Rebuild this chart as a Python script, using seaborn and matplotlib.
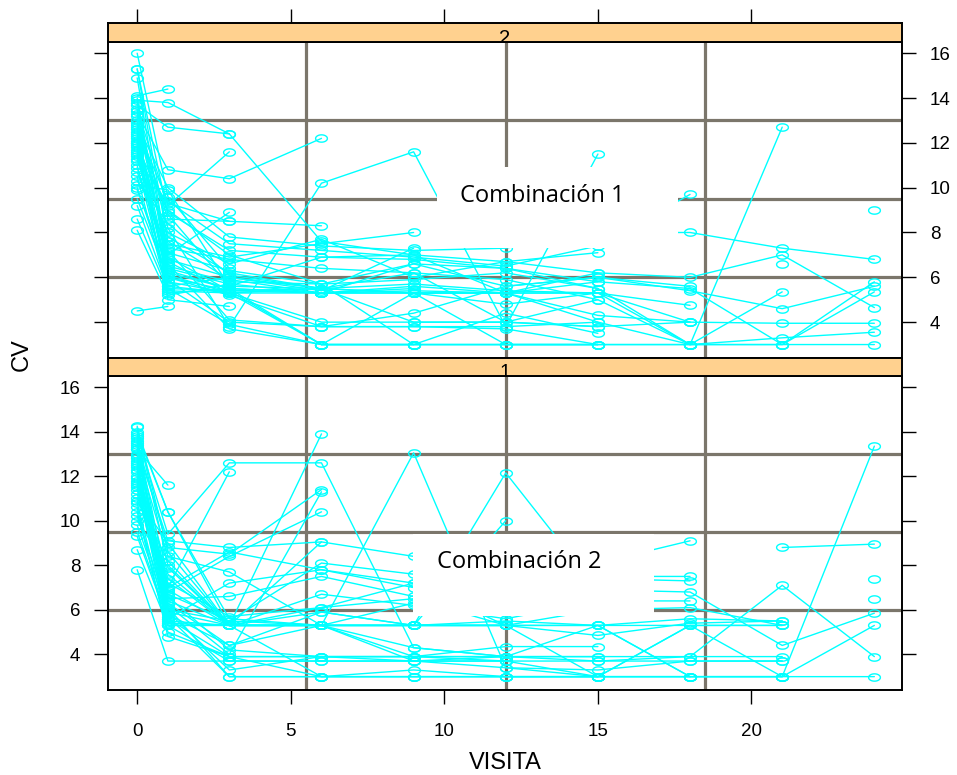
import numpy as np
import pandas as pd
import matplotlib
matplotlib.use("Agg")
import matplotlib.pyplot as plt
from matplotlib.patches import Rectangle
import seaborn as sns

n = np.nan
visits = [0, 1, 3, 6, 9, 12, 15, 18, 21, 24]

# Panel "2" (top) -- Combinación 1 ; one row per subject, values at each visit
comb1 = [
    [16.0, 9.6, 6.4, n, n, n, n, n, n, n],
    [15.3, 8.8, 5.6, 5.5, 5.7, 5.4, 5.3, 4.0, 3.95, 3.95],
    [15.3, 7.6, 5.9, 5.3, 6.6, 5.6, 6.0, 5.4, 4.6, 5.6],
    [14.9, 6.9, 5.4, 5.3, 5.3, 5.3, 5.3, 3.0, 3.3, 3.55],
    [14.1, 14.4, n, n, n, n, n, n, n, n],
    [13.9, 13.8, 12.4, 7.6, 7.0, 6.7, 6.2, 6.0, 7.0, 4.65],
    [13.7, 12.7, 12.4, n, n, n, n, n, n, n],
    [13.5, 9.2, 11.6, n, n, n, n, n, n, n],
    [13.3, 10.8, 10.4, 12.2, n, n, n, n, n, n],
    [13.2, 8.2, 3.8, 10.2, 11.6, 3.8, 11.5, n, n, n],
    [13.0, 7.0, 8.9, n, n, n, n, n, n, n],
    [12.9, 8.6, 8.5, 8.3, n, n, n, n, n, n],
    [12.8, 10.0, 7.8, 7.4, 7.2, 7.3, 8.0, 8.0, 7.3, 6.8],
    [12.6, 9.4, 7.5, 7.2, 6.9, 6.5, 7.4, 9.7, n, n],
    [12.5, 8.9, 7.2, 6.9, 6.8, 6.4, 5.8, 5.5, 3.0, 5.35],
    [12.4, 6.5, 5.8, 5.7, 5.9, 6.2, 5.5, 3.0, 12.7, n],
    [12.3, 7.3, 6.8, 6.4, 6.2, 5.9, 5.0, 3.0, 5.35, n],
    [12.2, 6.2, 5.5, 5.3, 5.6, 5.3, 4.3, 4.0, n, n],
    [12.0, 5.8, 5.3, 5.3, 5.3, 5.3, 5.3, 4.75, n, n],
    [11.9, 6.0, 5.2, 3.8, 3.8, 3.8, 4.0, 3.0, 3.0, 3.0],
    [11.8, 9.0, 7.0, 5.7, 3.0, 3.0, 3.0, 3.0, 3.0, 5.8],
    [11.7, 7.8, 6.2, 5.5, 5.3, 3.0, 3.0, 3.0, n, n],
    [11.5, 5.5, 5.4, 3.0, 3.0, 4.4, 3.5, n, n, n],
    [11.4, 6.8, 6.0, 5.5, 4.0, 4.0, 3.8, 4.0, n, n],
    [11.2, 8.0, 6.6, 7.7, 6.0, 6.7, 7.1, n, n, n],
    [11.0, 5.6, 5.3, 5.5, 5.3, 4.8, 5.3, n, n, n],
    [10.9, 6.6, 3.7, 3.0, 3.0, 3.0, 3.0, n, n, n],
    [10.7, 7.2, 4.1, 3.8, 4.4, 5.6, 6.0, 5.6, n, n],
    [10.5, 5.3, 5.5, 5.3, 5.4, 5.3, 4.0, n, n, n],
    [10.3, 8.4, 6.1, 5.5, 6.2, 4.0, 5.0, n, n, n],
    [10.1, 9.9, 5.6, 6.9, 7.0, 5.3, 5.8, n, n, n],
    [10.0, 5.9, 4.0, 3.8, 3.8, 3.7, 3.0, n, n, n],
    [9.9, 6.4, 5.7, 5.3, 5.5, n, n, n, n, n],
    [9.2, 5.5, 3.9, 3.0, 3.0, n, n, n, n, n],
    [8.6, 5.4, 5.3, n, n, n, n, n, n, n],
    [8.1, 5.2, 5.7, n, n, n, n, n, n, n],
    [4.5, 4.7, n, n, n, n, n, n, n, n],
    [14.0, 6.3, 5.5, 3.0, 5.3, 5.3, 6.2, n, n, n],
    [13.8, 7.1, 6.3, 5.7, 6.6, 6.4, 5.5, n, n, n],
    [13.4, 6.7, 5.3, 4.0, 4.0, 4.0, 3.8, n, n, n],
    [12.7, 5.6, 6.0, 5.4, 7.3, n, n, n, n, n],
    [12.1, 7.5, 6.9, 7.5, 8.0, n, n, n, n, n],
    [11.6, 6.1, 5.3, 3.0, 3.0, 3.0, 3.0, n, n, n],
    [11.3, 9.3, 8.5, n, n, n, n, n, n, n],
    [9.5, 6.0, 5.4, 5.5, n, n, n, n, n, n],
    [12.0, 5.0, 4.7, n, n, n, n, n, n, n],
    [n, n, n, n, n, n, n, n, 6.6, n],
    [n, n, n, n, n, n, n, n, n, 9.0],
]

# Panel "1" (bottom) -- Combinación 2
comb2 = [
    [14.2, 8.0, 5.3, 13.9, n, n, n, n, n, n],
    [13.2, 11.6, n, n, n, n, n, n, n, n],
    [14.0, 10.4, 5.3, 5.3, 5.3, 5.3, 5.3, 3.0, n, n],
    [13.9, 10.4, 5.6, 5.3, 5.3, 5.3, 3.0, 5.3, 5.3, n],
    [13.8, 9.4, 12.6, 12.6, 4.3, 3.9, 3.7, 3.9, 7.1, 3.9],
    [13.7, 7.0, 12.2, n, n, n, n, n, n, n],
    [13.5, 8.8, 8.5, 11.4, n, n, n, n, n, n],
    [13.4, 6.2, 4.0, 11.3, n, n, n, n, n, n],
    [13.2, 9.1, 8.8, 9.05, 8.4, n, n, n, n, n],
    [13.0, 8.4, 7.7, 5.3, 13.05, 3.4, 3.0, n, n, n],
    [12.8, 7.6, 5.3, 5.3, 5.3, 12.15, 6.9, 6.8, 4.4, 5.85],
    [12.6, 6.8, 8.4, 10.4, n, n, n, n, n, n],
    [12.5, 6.0, 5.5, 8.1, 7.6, 6.8, 7.5, 7.5, n, n],
    [12.3, 5.6, 7.2, 7.8, 7.0, 6.4, 7.4, 7.3, n, n],
    [12.2, 6.5, 6.6, 7.5, 6.6, 5.9, 8.1, 9.1, n, n],
    [12.0, 5.4, 5.3, 6.7, 6.2, 5.6, 6.4, 6.4, n, n],
    [11.8, 7.2, 5.7, 6.1, 6.5, 5.3, 6.0, 6.1, 5.3, n],
    [11.6, 5.3, 5.3, 5.9, 5.3, 5.5, 5.3, 5.6, 5.5, n],
    [11.4, 5.8, 4.4, 5.3, 4.3, 3.9, 5.3, 3.0, 3.0, 13.35],
    [11.2, 6.6, 4.2, 3.9, 3.9, 3.7, 3.0, 5.3, 3.0, 5.3],
    [11.0, 9.0, 5.3, 3.0, 3.0, 3.0, 3.0, 3.0, 3.0, 3.0],
    [10.8, 5.3, 3.7, 3.7, 3.7, 3.4, 3.3, 3.7, 3.7, n],
    [10.6, 4.8, 3.9, 3.0, 3.3, 3.0, 3.0, 3.0, n, n],
    [10.4, 5.0, 3.9, 3.9, 3.9, 3.9, n, n, n, n],
    [10.2, 6.1, 3.0, 3.0, 3.0, 3.0, 3.0, n, n, n],
    [10.0, 7.9, 5.3, 5.3, 5.3, 5.3, 4.85, 5.4, 5.5, n],
    [9.8, 5.9, 3.3, 3.9, 3.7, 3.9, 3.9, n, n, n],
    [9.3, 5.5, 5.3, 5.3, 3.9, 4.35, 4.35, n, n, n],
    [8.7, 5.3, 5.3, n, n, n, n, n, n, n],
    [7.8, 3.7, 3.7, 3.7, 3.7, 3.7, 3.7, 3.7, 3.7, n],
    [11.9, 7.4, 5.3, 5.3, 5.3, 5.3, n, n, n, n],
    [12.9, 6.9, 5.3, 5.3, n, n, n, n, n, n],
    [13.3, 5.9, 5.3, 9.05, n, n, n, n, n, n],
    [12.4, 7.0, 8.6, 7.8, 7.2, n, n, n, n, n],
    [11.5, 6.3, 4.4, 5.9, 5.3, 10.0, n, n, n, n],
    [n, n, n, n, n, n, n, n, 8.8, 8.95],
    [n, n, n, n, n, n, n, n, n, 7.4],
    [n, n, n, n, n, n, n, n, n, 6.5],
    [10.9, 8.2, 5.3, 5.3, 6.3, n, n, n, n, n],
    [13.6, 6.4, 5.3, 5.3, 3.7, 3.7, n, n, n, n],
    [12.7, 5.7, 3.0, 3.0, 3.0, 3.0, 3.0, 3.0, 3.0, n],
    [14.25, 8.6, 5.3, 6.1, 7.2, 5.3, n, n, n, n],
    [11.7, 6.7, 5.5, 5.3, 5.3, 5.3, 5.3, 5.3, 5.3, n],
    [9.5, 5.6, 3.9, 3.9, 3.9, 3.9, 3.9, 3.9, 3.9, n],
]

strip_labels = ["2", "1"]
panel_texts = ["Combinación 1", "Combinación 2"]
x_ticks = [0, 5, 10, 15, 20]
y_ticks = [4, 6, 8, 10, 12, 14, 16]
ref_x = [5.5, 12, 18.5]
ref_y = [6, 9.5, 13]


def to_long(rows, tag):
    recs = []
    for i, r in enumerate(rows):
        for v, val in zip(visits, r):
            if not np.isnan(val):
                recs.append((f"{tag}{i}", v, val))
    return pd.DataFrame(recs, columns=["id", "VISITA", "CV"])


sns.set_style("white")
plt.rcParams["font.family"] = ["Liberation Sans", "DejaVu Sans"]
plt.rcParams["text.color"] = "black"
plt.rcParams["xtick.color"] = "black"
plt.rcParams["ytick.color"] = "black"
plt.rcParams["xtick.labelcolor"] = "black"
plt.rcParams["ytick.labelcolor"] = "black"

W, H = 957, 775
fig = plt.figure(figsize=(W / 100, H / 100), dpi=100)


def fr(x0, y0, x1, y1):
    return [x0 / W, 1 - y1 / H, (x1 - x0) / W, (y1 - y0) / H]


XL = (-0.95, 24.9)
YL = (2.4, 16.5)
cyan = "#00ffff"
tt = np.linspace(0, 2 * np.pi, 41)
ellipse = list(zip(np.cos(tt), 0.62 * np.sin(tt)))

panels = [
    dict(ax=fr(108, 42, 902, 358), strip=fr(108, 23, 902, 42), data=comb1,
         box=(9.77, 7.33, 7.83, 3.6), txt=(13.19, 9.64), top=True),
    dict(ax=fr(108, 376, 902, 690), strip=fr(108, 358, 902, 376), data=comb2,
         box=(8.99, 5.74, 7.85, 3.68), txt=(12.44, 8.16), top=False),
]

for k, p in enumerate(panels):
    ax = fig.add_axes(p["ax"])
    df = to_long(p["data"], "s")
    for gx in ref_x:
        ax.axvline(gx, color="#7b766b", lw=2.3, zorder=0.5)
    for gy in ref_y:
        ax.axhline(gy, color="#7b766b", lw=2.3, zorder=0.5)
    sns.lineplot(data=df, x="VISITA", y="CV", units="id", estimator=None,
                 color=cyan, lw=1.0, marker=ellipse, markersize=8.5,
                 mfc="none", mec=cyan, mew=1.0, legend=False, ax=ax,
                 zorder=2)
    ax.add_patch(Rectangle(p["box"][:2], p["box"][2], p["box"][3],
                           facecolor="white", edgecolor="none", zorder=5))
    ax.text(p["txt"][0], p["txt"][1], panel_texts[k], ha="center", va="center",
            fontsize=17, color="black", family=["Open Sans", "DejaVu Sans"],
            zorder=6)
    ax.set_xlim(*XL)
    ax.set_ylim(*YL)
    ax.set_xticks(x_ticks)
    ax.set_yticks(y_ticks)
    ax.set_xlabel("")
    ax.set_ylabel("")
    for s in ax.spines.values():
        s.set_color("black")
        s.set_linewidth(1.4)
    if p["top"]:
        ax.tick_params(axis="y", left=True, right=True, labelleft=False,
                       labelright=True, direction="out", length=10, width=1,
                       labelsize=13.5, pad=10)
        ax.tick_params(axis="x", bottom=False, labelbottom=False)
    else:
        ax.tick_params(axis="y", left=True, right=True, labelleft=True,
                       labelright=False, direction="out", length=10, width=1,
                       labelsize=13.5, pad=10)
        ax.tick_params(axis="x", bottom=True, labelbottom=True, direction="out",
                       length=10, width=1, labelsize=13.5, pad=14)

    sax = fig.add_axes(p["strip"])
    sax.set_facecolor("#ffd18f")
    sax.set_xlim(*XL)
    sax.set_ylim(0, 1)
    sax.set_yticks([])
    for s in sax.spines.values():
        s.set_color("black")
        s.set_linewidth(1.4)
    if p["top"]:
        sax.set_xticks(x_ticks)
        sax.tick_params(axis="x", top=True, bottom=False, labeltop=False,
                        labelbottom=False, direction="out", length=10, width=1)
    else:
        sax.set_xticks([])
    sax.text(0.5, -0.1, strip_labels[k], ha="center", va="baseline",
             fontsize=14.5, color="black", transform=sax.transAxes,
             clip_on=True)

fig.text(22 / W, 1 - 355 / H, "CV", rotation=90, fontsize=17,
         ha="center", va="center")
fig.text(505 / W, 1 - 763 / H, "VISITA", fontsize=17, ha="center", va="center")

fig.savefig("out.png", dpi=100)
